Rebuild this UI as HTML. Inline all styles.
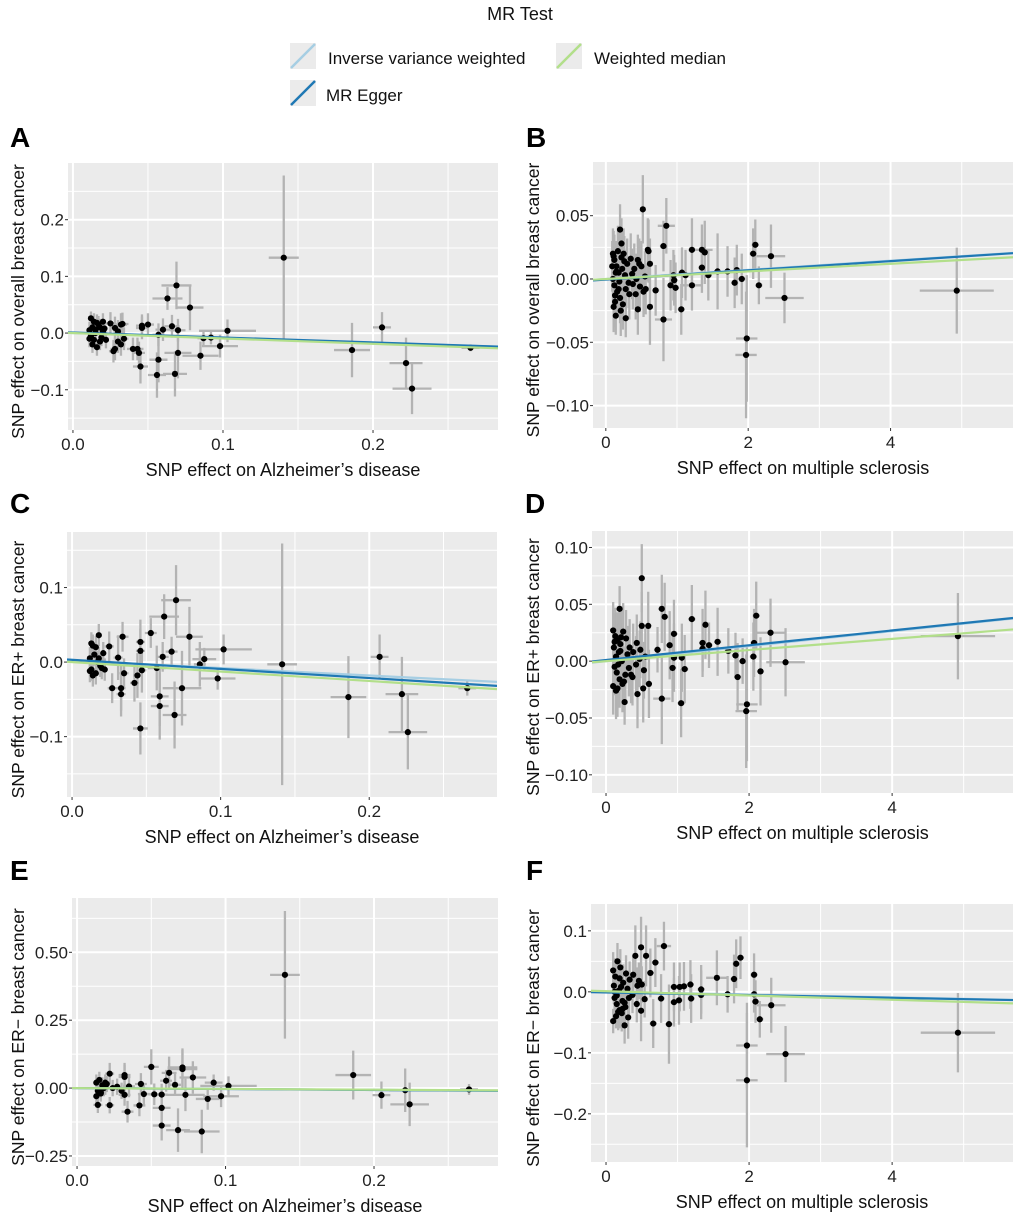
<!DOCTYPE html>
<html><head><meta charset="utf-8"><style>
html,body{margin:0;padding:0;background:#fff}
svg{display:block;font-family:"Liberation Sans",sans-serif}
</style></head><body>
<svg id="fig" width="1020" height="1217" viewBox="0 0 1020 1217" xmlns="http://www.w3.org/2000/svg">
<text x="520" y="20" font-size="18" text-anchor="middle" fill="#111">MR Test</text>
<g><rect x="290" y="43" width="26" height="26" fill="#ebebeb"/><line x1="291" y1="68" x2="315" y2="44" stroke="#a6cee3" stroke-width="2.5"/><text x="328" y="64" font-size="17" fill="#111">Inverse variance weighted</text></g>
<g><rect x="556" y="43" width="26" height="26" fill="#ebebeb"/><line x1="557" y1="68" x2="581" y2="44" stroke="#b2df8a" stroke-width="2.5"/><text x="594" y="64" font-size="17" fill="#111">Weighted median</text></g>
<g><rect x="290" y="80" width="26" height="26" fill="#ebebeb"/><line x1="291" y1="105" x2="315" y2="81" stroke="#1f78b4" stroke-width="2.5"/><text x="326" y="101" font-size="17" fill="#111">MR Egger</text></g>
</svg>
<script>
// ---- Panel A: Alzheimer's -> overall BC ----
const aX=[0.1405,0.186,0.206,0.222,0.226,0.265,0.069,0.063,0.078,0.103,0.098,0.092,0.087,0.085,0.07,0.068,0.056,0.057,0.06,0.066,0.07,0.057,0.05,0.046,0.046,0.045,0.044,0.043,0.04,0.033,0.032,0.03,0.028,0.025,0.028,0.034,0.032,0.03,0.027,0.012,0.014,0.016,0.013,0.011,0.015,0.012,0.014,0.013,0.016,0.018,0.019,0.02,0.022,0.017,0.02,0.011,0.015,0.018,0.021];
const aY=[0.133,-0.03,0.01,-0.053,-0.098,-0.026,0.084,0.061,0.045,0.004,-0.023,-0.008,-0.009,-0.04,-0.035,-0.072,-0.074,-0.047,0.006,0.012,0.005,-0.003,0.015,0.013,0.009,-0.059,-0.035,-0.028,-0.028,0.016,0.015,0.003,0.009,0.017,-0.028,-0.01,-0.02,-0.015,-0.032,0.026,0.02,0.018,0.01,0.005,0.0,-0.005,-0.012,-0.02,-0.025,0.01,-0.008,0.003,-0.012,0.015,0.02,-0.01,0.006,-0.015,0.008];
const aSx=[0.01,0.012,0.006,0.011,0.013,0.006,0.01,0.01,0.009,0.019,0.012,0.006,0.004,0.012,0.009,0.008,0.006,0.006,0.005,0.005,0.005,0.004,0.004,0.004,0.004,0.005,0.004,0.004,0.004,0.004,0.004,0.003,0.003,0.003,0.003,0.003,0.003,0.003,0.003,0.002,0.002,0.002,0.002,0.002,0.002,0.002,0.002,0.002,0.002,0.002,0.002,0.002,0.002,0.002,0.002,0.002,0.002,0.002,0.002];
const aSy=[0.145,0.048,0.027,0.045,0.045,0.006,0.042,0.02,0.04,0.02,0.02,0.012,0.012,0.025,0.045,0.04,0.04,0.04,0.02,0.02,0.02,0.02,0.02,0.02,0.02,0.03,0.02,0.02,0.02,0.02,0.02,0.02,0.02,0.02,0.02,0.02,0.02,0.02,0.02,0.012,0.015,0.015,0.015,0.015,0.015,0.015,0.015,0.015,0.015,0.015,0.015,0.015,0.015,0.015,0.015,0.015,0.015,0.015,0.015];
// ---- Panel B: MS -> overall BC ----
const bX=[4.93,2.51,2.32,2.1,2.07,2.15,1.98,1.97,1.91,1.81,1.84,1.71,1.57,1.44,1.39,1.35,1.35,1.21,1.21,1.12,1.07,1.06,0.98,0.96,0.95,0.91,0.85,0.81,0.81,0.7,0.52,0.59,0.6,0.62,0.45,0.2,0.28,0.14,0.1,0.12,0.15,0.18,0.22,0.25,0.3,0.35,0.4,0.45,0.5,0.55,0.12,0.16,0.2,0.24,0.28,0.33,0.38,0.43,0.48,0.53,0.1,0.14,0.19,0.23,0.27,0.32,0.37,0.42,0.47,0.56,0.62,0.11,0.13,0.17,0.21,0.26,0.11,0.15,0.18,0.22,0.09,0.13];
const bY=[-0.0092,-0.015,0.018,0.027,0.02,-0.005,-0.047,-0.06,0.0,-0.003,0.007,0.006,0.006,0.003,0.021,0.023,0.009,0.023,-0.005,0.003,0.005,-0.024,-0.007,-0.001,0.003,-0.005,0.042,0.026,-0.032,-0.009,0.055,0.023,0.022,-0.022,-0.024,0.039,-0.031,-0.029,0.02,0.015,0.01,0.005,0.028,0.02,0.012,0.016,0.008,0.015,0.01,0.002,-0.005,-0.01,-0.015,-0.02,-0.008,-0.012,-0.004,0.0,-0.006,-0.01,0.0,0.005,-0.002,0.008,0.003,-0.003,0.004,-0.012,0.012,-0.008,0.012,0.018,-0.018,0.022,-0.025,0.014,-0.022,0.006,-0.008,0.017,0.01,-0.013];
const bSx=[0.52,0.27,0.2,0.05,0.05,0.05,0.15,0.15,0.05,0.05,0.05,0.05,0.05,0.05,0.05,0.15,0.05,0.05,0.15,0.05,0.05,0.05,0.05,0.05,0.05,0.05,0.12,0.05,0.12,0.05,0.03,0.03,0.03,0.03,0.03,0.03,0.03,0.03,0.03,0.03,0.03,0.03,0.03,0.03,0.03,0.03,0.03,0.03,0.03,0.03,0.03,0.03,0.03,0.03,0.03,0.03,0.03,0.03,0.03,0.03,0.03,0.03,0.03,0.03,0.03,0.03,0.03,0.03,0.03,0.03,0.03,0.03,0.03,0.03,0.03,0.03,0.03,0.03,0.03,0.03,0.03,0.03];
const bSy=[0.034,0.02,0.025,0.02,0.02,0.015,0.05,0.05,0.02,0.02,0.02,0.02,0.03,0.02,0.025,0.02,0.02,0.025,0.02,0.02,0.02,0.02,0.02,0.02,0.02,0.02,0.022,0.02,0.033,0.02,0.027,0.025,0.025,0.03,0.02,0.02,0.015,0.015,0.02,0.02,0.02,0.02,0.02,0.02,0.02,0.02,0.02,0.02,0.02,0.02,0.02,0.02,0.02,0.02,0.02,0.02,0.02,0.02,0.02,0.02,0.02,0.02,0.02,0.02,0.02,0.02,0.02,0.02,0.02,0.02,0.02,0.02,0.02,0.02,0.02,0.02,0.02,0.02,0.02,0.02,0.02,0.02];
// ---- Panel C: Alzheimer's -> ER+ BC ----
const cX=[0.1414,0.186,0.207,0.222,0.226,0.266,0.07,0.062,0.079,0.102,0.098,0.089,0.086,0.074,0.069,0.059,0.059,0.057,0.061,0.067,0.053,0.046,0.046,0.046,0.047,0.044,0.042,0.034,0.033,0.033,0.031,0.025,0.027,0.035,0.013,0.014,0.016,0.018,0.012,0.015,0.017,0.019,0.013,0.016,0.02,0.022,0.014,0.018,0.021,0.012];
const cY=[-0.003,-0.047,0.007,-0.043,-0.094,-0.035,0.083,0.061,0.034,0.017,-0.022,0.004,-0.003,-0.035,-0.071,-0.059,-0.046,-0.008,0.007,0.014,0.039,-0.089,0.027,0.015,-0.011,-0.018,-0.028,0.034,-0.043,-0.035,0.006,0.021,-0.035,-0.015,0.025,0.022,0.02,0.036,0.005,0.01,0.0,-0.005,-0.01,-0.015,-0.008,-0.01,-0.018,0.005,0.012,-0.012];
const cSx=[0.01,0.012,0.006,0.011,0.013,0.006,0.01,0.01,0.009,0.019,0.012,0.008,0.004,0.013,0.008,0.006,0.006,0.006,0.004,0.004,0.004,0.005,0.003,0.003,0.003,0.003,0.003,0.004,0.003,0.003,0.003,0.003,0.003,0.003,0.002,0.002,0.002,0.002,0.002,0.002,0.002,0.002,0.002,0.002,0.002,0.002,0.002,0.002,0.002,0.002];
const cSy=[0.162,0.055,0.03,0.05,0.05,0.01,0.047,0.03,0.04,0.02,0.015,0.015,0.03,0.05,0.045,0.045,0.04,0.03,0.02,0.02,0.02,0.035,0.03,0.03,0.03,0.03,0.025,0.02,0.03,0.03,0.03,0.02,0.02,0.02,0.015,0.015,0.015,0.015,0.015,0.015,0.015,0.015,0.015,0.015,0.015,0.015,0.015,0.015,0.015,0.015];
// ---- Panel D: MS -> ER+ BC ----
const dX=[4.92,2.51,2.3,2.1,2.07,2.06,2.16,1.97,1.96,1.91,1.84,1.81,1.71,1.56,1.44,1.39,1.35,1.35,1.2,1.1,1.06,1.05,0.95,0.95,0.93,0.89,0.82,0.78,0.78,0.72,0.5,0.5,0.59,0.52,0.44,0.19,0.26,0.6,0.1,0.13,0.16,0.2,0.24,0.28,0.33,0.38,0.43,0.48,0.55,0.12,0.15,0.19,0.23,0.27,0.32,0.37,0.42,0.47,0.53,0.1,0.14,0.18,0.22,0.3,0.35,0.11,0.14,0.17,0.21,0.25,0.12,0.16,0.2];
const dY=[0.022,-0.001,0.025,0.04,0.016,0.004,-0.009,-0.038,-0.044,0.0,-0.014,0.005,0.009,0.017,0.014,0.032,0.016,0.011,0.037,-0.007,0.003,-0.037,0.024,0.003,-0.006,0.014,0.039,0.046,-0.033,0.01,0.073,0.031,0.031,-0.024,-0.029,0.046,-0.036,-0.02,0.027,0.022,0.018,0.015,0.026,0.02,0.012,0.008,0.016,0.01,0.004,-0.005,-0.01,-0.016,-0.02,-0.012,-0.006,-0.014,-0.003,0.002,-0.008,-0.022,-0.026,0.008,0.0,0.006,-0.012,0.012,0.004,-0.003,0.021,-0.018,0.017,-0.024,0.009];
const dSx=[0.52,0.27,0.2,0.05,0.05,0.05,0.05,0.15,0.15,0.05,0.05,0.05,0.05,0.05,0.05,0.05,0.05,0.05,0.05,0.05,0.05,0.05,0.05,0.05,0.05,0.05,0.05,0.05,0.12,0.05,0.03,0.03,0.03,0.03,0.03,0.03,0.03,0.03,0.03,0.03,0.03,0.03,0.03,0.03,0.03,0.03,0.03,0.03,0.03,0.03,0.03,0.03,0.03,0.03,0.03,0.03,0.03,0.03,0.03,0.03,0.03,0.03,0.03,0.03,0.03,0.03,0.03,0.03,0.03,0.03,0.03,0.03,0.03];
const dSy=[0.038,0.03,0.03,0.03,0.03,0.03,0.03,0.05,0.05,0.02,0.03,0.02,0.02,0.03,0.02,0.03,0.03,0.02,0.03,0.03,0.03,0.03,0.03,0.03,0.03,0.03,0.03,0.03,0.04,0.02,0.03,0.03,0.03,0.03,0.03,0.02,0.02,0.03,0.025,0.025,0.025,0.025,0.025,0.025,0.025,0.025,0.025,0.025,0.025,0.025,0.025,0.025,0.025,0.025,0.025,0.025,0.025,0.025,0.025,0.025,0.025,0.025,0.025,0.025,0.025,0.025,0.025,0.025,0.025,0.025,0.025,0.025,0.025];
// ---- Panel E: Alzheimer's -> ER- BC ----
const eX=[0.14,0.186,0.205,0.221,0.224,0.264,0.071,0.071,0.05,0.062,0.078,0.092,0.102,0.097,0.088,0.073,0.066,0.06,0.057,0.057,0.057,0.068,0.084,0.052,0.045,0.043,0.042,0.034,0.032,0.032,0.022,0.022,0.014,0.035,0.032,0.013,0.015,0.017,0.019,0.014,0.016,0.018,0.02,0.024,0.027,0.03,0.013,0.016,0.019];
const eY=[0.417,0.048,-0.026,-0.008,-0.06,-0.005,0.076,0.07,0.078,0.056,0.039,0.02,0.008,-0.03,-0.04,-0.025,0.012,0.027,-0.024,-0.073,-0.138,-0.155,-0.16,-0.023,-0.022,0.015,-0.064,-0.087,0.048,0.041,0.053,-0.063,-0.062,0.006,-0.025,0.02,0.03,0.01,0.005,-0.01,-0.02,0.0,0.015,0.0,0.005,-0.01,-0.03,-0.015,0.02];
const eSx=[0.01,0.012,0.006,0.011,0.013,0.006,0.01,0.01,0.005,0.005,0.009,0.006,0.019,0.012,0.008,0.013,0.004,0.004,0.004,0.006,0.006,0.008,0.012,0.004,0.004,0.004,0.004,0.004,0.004,0.004,0.003,0.003,0.003,0.004,0.004,0.002,0.002,0.002,0.002,0.002,0.002,0.002,0.002,0.002,0.002,0.002,0.002,0.002,0.002];
const eSy=[0.235,0.09,0.05,0.08,0.08,0.02,0.07,0.07,0.065,0.06,0.06,0.03,0.035,0.04,0.04,0.06,0.04,0.04,0.04,0.05,0.055,0.08,0.08,0.04,0.04,0.04,0.04,0.04,0.045,0.045,0.04,0.03,0.03,0.04,0.04,0.03,0.03,0.03,0.03,0.03,0.03,0.03,0.03,0.03,0.03,0.03,0.03,0.03,0.03];
// ---- Panel F: MS -> ER- BC ----
const fX=[4.92,2.51,1.97,1.97,2.31,2.15,2.09,2.07,2.07,1.88,1.82,1.79,1.7,1.55,1.33,1.33,1.19,1.18,1.09,1.03,1.02,0.95,0.95,0.88,0.81,0.77,0.69,0.66,0.62,0.49,0.49,0.41,0.56,0.31,0.26,0.1,0.13,0.16,0.2,0.24,0.28,0.33,0.38,0.44,0.5,0.12,0.15,0.19,0.23,0.27,0.32,0.37,0.43,0.1,0.14,0.18,0.22,0.3,0.46,0.54,0.11,0.15,0.19,0.23,0.12,0.17,0.21,0.26];
const fY=[-0.067,-0.102,-0.088,-0.145,-0.022,-0.045,-0.016,0.028,-0.004,0.056,0.046,0.021,-0.004,0.023,0.004,-0.005,-0.011,0.012,0.009,0.008,-0.014,0.008,-0.017,-0.053,0.075,-0.011,0.048,-0.052,0.031,0.073,-0.031,0.059,0.059,-0.042,-0.055,0.035,0.025,0.05,0.04,0.015,0.03,0.02,0.028,0.01,0.012,-0.01,-0.02,-0.03,-0.015,-0.025,-0.01,-0.005,-0.02,-0.048,-0.04,0.002,-0.035,0.005,0.018,-0.012,0.01,-0.006,0.022,-0.028,0.0,-0.033,0.008,-0.018];
const fSx=[0.52,0.27,0.15,0.15,0.2,0.05,0.05,0.05,0.05,0.05,0.05,0.05,0.05,0.15,0.05,0.05,0.05,0.05,0.05,0.05,0.05,0.05,0.05,0.05,0.1,0.05,0.05,0.05,0.05,0.03,0.03,0.03,0.03,0.03,0.03,0.03,0.03,0.03,0.03,0.03,0.03,0.03,0.03,0.03,0.03,0.03,0.03,0.03,0.03,0.03,0.03,0.03,0.03,0.03,0.03,0.03,0.03,0.03,0.03,0.03,0.03,0.03,0.03,0.03,0.03,0.03,0.03,0.03];
const fSy=[0.065,0.046,0.07,0.11,0.045,0.03,0.035,0.035,0.03,0.035,0.04,0.04,0.03,0.045,0.04,0.04,0.04,0.04,0.04,0.04,0.04,0.04,0.04,0.065,0.04,0.04,0.04,0.04,0.04,0.05,0.05,0.05,0.05,0.035,0.03,0.03,0.03,0.03,0.03,0.03,0.03,0.03,0.03,0.03,0.03,0.03,0.03,0.03,0.03,0.03,0.03,0.03,0.03,0.02,0.02,0.03,0.03,0.03,0.03,0.03,0.03,0.03,0.03,0.03,0.03,0.03,0.03,0.03];
// regression lines [intercept, slope]: IVW, Egger, WM
const aLines=[[0,-0.085],[0.001,-0.088],[0,-0.095]];
const bLines=[[0,0.0036],[-0.0005,0.00365],[0,0.003]];
const cLines=[[0.002,-0.1],[0.003,-0.122],[0,-0.127]];
const dLines=[[0,0.0066],[0.001,0.0065],[0,0.0049]];
const eLines=[[0,-0.035],[0,-0.035],[0,-0.03]];
const fLines=[[0,-0.0023],[-0.001,-0.0022],[0.001,-0.0035]];
const lineColors=["#a6cee3","#1f78b4","#b2df8a"];
const lineNames=["ivw-line","egger-line","wm-line"];

const NS="http://www.w3.org/2000/svg";
const svg=document.getElementById('fig');
function mk(tag,attrs,parent){const e=document.createElementNS(NS,tag);for(const k in attrs)e.setAttribute(k,attrs[k]);(parent||svg).appendChild(e);return e;}

const panels=[
 {L:'A',lx:10,ly:147,px:[68,498],py:[163,430],xd:[-0.0033,0.2833],yd:[-0.171,0.30],xt:[0,0.1,0.2],xl:["0.0","0.1","0.2"],xm:[0.05,0.15,0.25],yt:[-0.1,0,0.1,0.2],yl:["\u22120.1","0.0","0.1","0.2"],ym:[-0.15,-0.05,0.05,0.15,0.25],xtitle:"SNP effect on Alzheimer\u2019s disease",ytitle:"SNP effect on overall breast cancer",X:aX,Y:aY,SX:aSx,SY:aSy,lines:aLines},
 {L:'B',lx:526,ly:147,px:[593,1013],py:[162,428],xd:[-0.18,5.72],yd:[-0.1177,0.0924],xt:[0,2,4],xl:["0","2","4"],xm:[1,3,5],yt:[-0.1,-0.05,0,0.05],yl:["\u22120.10","\u22120.05","0.00","0.05"],ym:[-0.075,-0.025,0.025,0.075],xtitle:"SNP effect on  multiple sclerosis",ytitle:"SNP effect on overall breast cancer",X:bX,Y:bY,SX:bSx,SY:bSy,lines:bLines},
 {L:'C',lx:10,ly:513,px:[67,497],py:[532,797],xd:[-0.0034,0.286],yd:[-0.181,0.1745],xt:[0,0.1,0.2],xl:["0.0","0.1","0.2"],xm:[0.05,0.15,0.25],yt:[-0.1,0,0.1],yl:["\u22120.1","0.0","0.1"],ym:[-0.15,-0.05,0.05,0.15],xtitle:"SNP effect on Alzheimer\u2019s disease",ytitle:"SNP effect on ER+ breast cancer",X:cX,Y:cY,SX:cSx,SY:cSy,lines:cLines},
 {L:'D',lx:525,ly:513,px:[592,1013],py:[531,793],xd:[-0.196,5.69],yd:[-0.116,0.1145],xt:[0,2,4],xl:["0","2","4"],xm:[1,3,5],yt:[-0.1,-0.05,0,0.05,0.1],yl:["\u22120.10","\u22120.05","0.00","0.05","0.10"],ym:[-0.075,-0.025,0.025,0.075],xtitle:"SNP effect on multiple sclerosis",ytitle:"SNP effect on ER+ breast cancer",X:dX,Y:dY,SX:dSx,SY:dSy,lines:dLines},
 {L:'E',lx:10,ly:880,px:[72,498],py:[898,1166],xd:[-0.0034,0.2835],yd:[-0.287,0.70],xt:[0,0.1,0.2],xl:["0.0","0.1","0.2"],xm:[0.05,0.15,0.25],yt:[-0.25,0,0.25,0.5],yl:["\u22120.25","0.00","0.25","0.50"],ym:[-0.125,0.125,0.375,0.625],xtitle:"SNP effect on Alzheimer\u2019s disease",ytitle:"SNP effect on ER\u2212 breast cancer",X:eX,Y:eY,SX:eSx,SY:eSy,lines:eLines},
 {L:'F',lx:526,ly:880,px:[591,1013],py:[904,1162],xd:[-0.21,5.69],yd:[-0.279,0.144],xt:[0,2,4],xl:["0","2","4"],xm:[1,3,5],yt:[-0.2,-0.1,0,0.1],yl:["\u22120.2","\u22120.1","0.0","0.1"],ym:[-0.25,-0.15,-0.05,0.05],xtitle:"SNP effect on multiple sclerosis",ytitle:"SNP effect on ER\u2212 breast cancer",X:fX,Y:fY,SX:fSx,SY:fSy,lines:fLines}
];

panels.forEach((p,pi)=>{
  const g=mk('g',{});
  
  
  const sx=v=>p.px[0]+(v-p.xd[0])/(p.xd[1]-p.xd[0])*(p.px[1]-p.px[0]);
  const sy=v=>p.py[1]-(v-p.yd[0])/(p.yd[1]-p.yd[0])*(p.py[1]-p.py[0]);
  const clipId='clip'+pi;
  const cp=mk('clipPath',{id:clipId},g);
  mk('rect',{x:p.px[0],y:p.py[0],width:p.px[1]-p.px[0],height:p.py[1]-p.py[0]},cp);
  const bg=mk('rect',{x:p.px[0],y:p.py[0],width:p.px[1]-p.px[0],height:p.py[1]-p.py[0],fill:'#ebebeb'},g);
  
  
  p.xm.forEach(v=>{if(v>p.xd[0]&&v<p.xd[1])mk('line',{x1:sx(v),x2:sx(v),y1:p.py[0],y2:p.py[1],stroke:'#fff','stroke-width':1},g);});
  p.ym.forEach(v=>{if(v>p.yd[0]&&v<p.yd[1])mk('line',{x1:p.px[0],x2:p.px[1],y1:sy(v),y2:sy(v),stroke:'#fff','stroke-width':1},g);});
  p.xt.forEach(v=>mk('line',{x1:sx(v),x2:sx(v),y1:p.py[0],y2:p.py[1],stroke:'#fff','stroke-width':2},g));
  p.yt.forEach(v=>mk('line',{x1:p.px[0],x2:p.px[1],y1:sy(v),y2:sy(v),stroke:'#fff','stroke-width':2},g));
  const data=mk('g',{'clip-path':'url(#'+clipId+')'},g);
  p.X.forEach((x,i)=>{
    const y=p.Y[i];
    const eb=mk('path',{d:`M${sx(x-p.SX[i])},${sy(y)}H${sx(x+p.SX[i])}M${sx(x)},${sy(y-p.SY[i])}V${sy(y+p.SY[i])}`,stroke:'#b3b3b3','stroke-width':2.3,fill:'none'},data);
    
    
  });
  p.X.forEach((x,i)=>{
    const pt=mk('circle',{cx:sx(x),cy:sy(p.Y[i]),r:3.1,fill:'#000'},data);
    
    
  });
  p.lines.forEach((ln,k)=>{
    const l=mk('line',{x1:sx(p.xd[0]),y1:sy(ln[0]+ln[1]*p.xd[0]),x2:sx(p.xd[1]),y2:sy(ln[0]+ln[1]*p.xd[1]),stroke:lineColors[k],'stroke-width':2.2},data);
    
    
  });
  p.xt.forEach((v,i)=>{
    mk('line',{x1:sx(v),x2:sx(v),y1:p.py[1],y2:p.py[1]+3,stroke:'#333','stroke-width':1},g);
    const t=mk('text',{x:sx(v),y:p.py[1]+20,'font-size':17,'text-anchor':'middle',fill:'#222'},g);
    t.textContent=p.xl[i];
    
    
  });
  p.yt.forEach((v,i)=>{
    mk('line',{x1:p.px[0]-3,x2:p.px[0],y1:sy(v),y2:sy(v),stroke:'#333','stroke-width':1},g);
    const t=mk('text',{x:p.px[0]-4,y:sy(v)+6,'font-size':17,'text-anchor':'end',fill:'#222'},g);
    t.textContent=p.yl[i];
    
    
  });
  const xt=mk('text',{x:(p.px[0]+p.px[1])/2,y:p.py[1]+46,'font-size':18,'text-anchor':'middle',fill:'#111'},g);
  xt.textContent=p.xtitle;
  
  
  const ycx=p.L==='A'||p.L==='C'||p.L==='E'?18:533;
  const ycy=(p.py[0]+p.py[1])/2+5;
  const yt=mk('text',{x:ycx,y:ycy,'font-size':17.5,'text-anchor':'middle',fill:'#111',transform:`rotate(-90 ${ycx} ${ycy})`},g);
  yt.setAttribute('dy','6');
  yt.textContent=p.ytitle;
  
  
  const lt=mk('text',{x:p.lx,y:p.ly,'font-size':28,'font-weight':'bold',fill:'#000'},g);
  lt.textContent=p.L;
  
  
});
</script>
</body></html>
